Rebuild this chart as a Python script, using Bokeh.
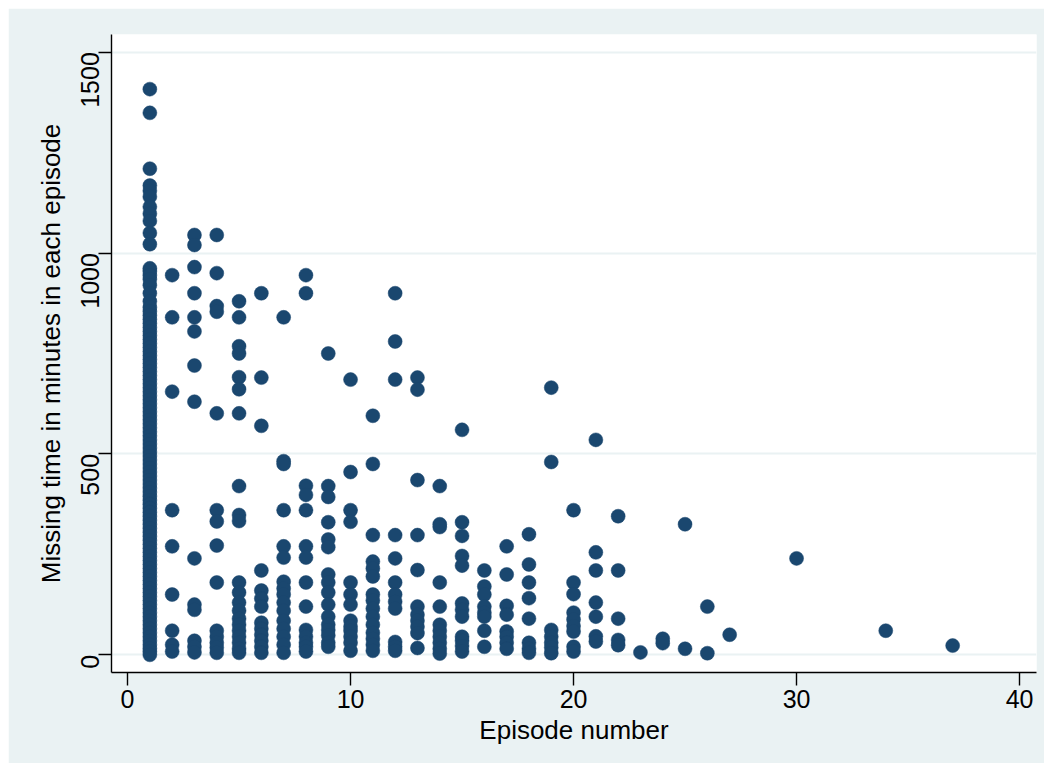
import math
from bokeh.plotting import figure
from bokeh.models import Range1d, FixedTicker, ColumnDataSource
from bokeh.embed import file_html
from bokeh.resources import INLINE

# ---- data: missing minutes per episode ----
ep1 = [1408, 1349, 1210, 1168, 1155, 1140, 1115, 1098, 1080, 1050, 1022,
       962, 955, 945, 935, 920, 900, 880, 865, 855, 845, 835, 825, 815, 805,
       795, 785, 775, 765, 755, 745, 735, 725, 715, 705, 695, 685, 675, 665,
       655, 645, 635, 625, 615, 605, 595, 585, 575, 565, 555, 545, 535, 525,
       515, 505, 495, 485, 475, 465, 455, 445, 435, 425, 415, 405, 395, 385,
       375, 365, 355, 345, 335, 325, 315, 305, 295, 285, 275, 265, 255, 245,
       235, 225, 215, 205, 195, 185, 175, 165, 155, 145, 135, 125, 115, 105,
       95, 85, 75, 65, 55, 45, 35, 25, 16, 8, 0]
ep2 = [945, 840, 655, 360, 270, 150, 60, 25, 8]
ep3 = [1045, 1020, 965, 900, 840, 805, 720, 630, 240, 125, 112, 35, 20, 6]
ep4 = [1045, 950, 868, 854, 601, 360, 332, 272, 180, 60, 45, 30, 18, 5]
ep5 = [880, 840, 768, 750, 691, 661, 601, 420, 348, 333, 180, 155, 130,
       110, 90, 75, 60, 45, 30, 15, 5]
ep6 = [900, 690, 570, 210, 160, 140, 120, 80, 65, 50, 35, 20, 5]
ep7 = [840, 482, 475, 360, 270, 242, 182, 165, 150, 130, 110, 85, 65, 45,
       25, 5]
ep8 = [945, 900, 421, 398, 360, 270, 242, 180, 120, 62, 45, 30, 20, 8]
ep9 = [750, 420, 393, 330, 287, 268, 200, 180, 155, 125, 95, 75, 62, 48,
       30, 20]
ep10 = [685, 455, 360, 331, 180, 150, 125, 85, 70, 60, 45, 30, 10]
ep11 = [595, 475, 298, 232, 215, 195, 150, 135, 115, 95, 75, 55, 40, 25, 10]
ep12 = [900, 780, 685, 298, 240, 180, 150, 132, 115, 32, 20, 10]
ep13 = [690, 660, 435, 298, 211, 120, 100, 85, 70, 54, 17]
ep14 = [420, 325, 318, 180, 120, 75, 60, 45, 30, 15, 3]
ep15 = [560, 330, 296, 246, 222, 128, 112, 95, 45, 35, 22, 8]
ep16 = [210, 170, 150, 120, 105, 95, 60, 20]
ep17 = [270, 200, 122, 100, 58, 45, 30, 15]
ep18 = [300, 225, 180, 141, 90, 30, 15, 5]
ep19 = [665, 480, 62, 45, 30, 18, 4]
ep20 = [360, 180, 151, 105, 88, 72, 58, 20, 8]
ep21 = [535, 255, 210, 130, 95, 46, 33]
ep22 = [345, 210, 90, 37, 24]
ep23 = [6]
ep24 = [40, 29]
ep25 = [325, 15]
ep26 = [120, 4]
ep27 = [50]
ep30 = [240]
ep34 = [60]
ep37 = [23]

episodes = [1, 2, 3, 4, 5, 6, 7, 8, 9, 10, 11, 12, 13, 14, 15, 16, 17, 18,
            19, 20, 21, 22, 23, 24, 25, 26, 27, 30, 34, 37]
episode_values = [ep1, ep2, ep3, ep4, ep5, ep6, ep7, ep8, ep9, ep10, ep11,
                  ep12, ep13, ep14, ep15, ep16, ep17, ep18, ep19, ep20, ep21,
                  ep22, ep23, ep24, ep25, ep26, ep27, ep30, ep34, ep37]

x_ticks = [0, 10, 20, 30, 40]
y_ticks = [0, 500, 1000, 1500]

xs, ys = [], []
for e, vals in zip(episodes, episode_values):
    for v in vals:
        xs.append(e)
        ys.append(v)
src = ColumnDataSource(dict(x=xs, y=ys))

BG = "#EAF2F3"
NAVY = "#1A476F"
FONT = "Liberation Sans"

p = figure(width=1036, height=755, output_backend="svg", toolbar_location=None,
           x_range=Range1d(-0.72, 40.76), y_range=Range1d(-44, 1544),
           min_border_left=103, min_border_right=8, min_border_top=26,
           min_border_bottom=91)
p.margin = (8, 0, 0, 8)
p.background_fill_color = "white"
p.border_fill_color = BG
p.outline_line_color = None

p.scatter("x", "y", source=src, size=14, fill_color=NAVY, line_color=NAVY,
          line_width=0.5)

# grid
p.xgrid.visible = False
p.ygrid.ticker = FixedTicker(ticks=y_ticks)
p.ygrid.grid_line_color = BG
p.ygrid.grid_line_width = 2

for ax in (p.xaxis[0], p.yaxis[0]):
    ax.axis_line_color = "#000000"
    ax.axis_line_width = 1.4
    ax.major_tick_line_color = "#000000"
    ax.major_tick_line_width = 1.4
    ax.major_tick_out = 13
    ax.major_tick_in = 0
    ax.minor_tick_line_color = None
    ax.major_label_text_font = FONT
    ax.major_label_text_font_size = "25px"
    ax.major_label_text_color = "#000000"
    ax.axis_label_text_font = FONT
    ax.axis_label_text_font_size = "26px"
    ax.axis_label_text_font_style = "normal"
    ax.axis_label_text_color = "#000000"

p.xaxis.ticker = FixedTicker(ticks=x_ticks)
p.yaxis.ticker = FixedTicker(ticks=y_ticks)
p.xaxis.axis_label = "Episode number"
p.yaxis.axis_label = "Missing time in minutes in each episode"
p.yaxis.major_label_orientation = math.pi / 2
p.yaxis.major_label_standoff = 8
p.yaxis.axis_label_standoff = 4
p.xaxis.major_label_standoff = 4
p.xaxis.axis_label_standoff = 4

open("out.html", "w").write(file_html(p, INLINE))
